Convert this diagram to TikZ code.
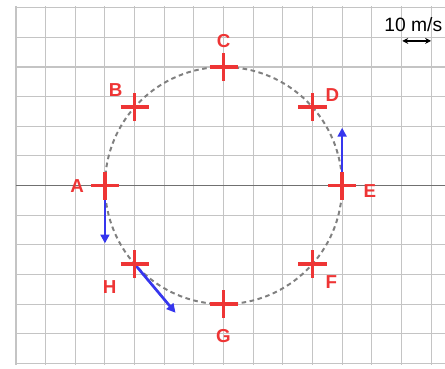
\documentclass[tikz,border=0pt]{standalone}
\usepackage{fontspec}
\setmainfont{Liberation Sans}
\usetikzlibrary{arrows.meta, positioning, shapes.misc, calc}
\definecolor{ptRed}{HTML}{EE3535}
\definecolor{velBlue}{HTML}{3636EE}
\definecolor{gridGray}{HTML}{C4C4C4}
\definecolor{axisGray}{HTML}{707070}
\definecolor{pathGray}{HTML}{808080}
\tikzset{
  plusmk/.style={cross out, draw=ptRed, line width=3.4pt, rotate=45,
                 minimum size=0.55cm, inner sep=0pt},
  lbl/.style={text=ptRed, font=\fontsize{18}{21}\selectfont\bfseries,
              inner sep=0pt},
  velarrow/.style={-{Triangle[length=3mm, width=3mm]}, velBlue, line width=2.6pt},
  scalearrow/.style={{Stealth[length=2mm, width=2mm]}-{Stealth[length=2mm, width=2mm]},
                     black, line width=1.5pt},
  orbit/.style={pathGray, line width=1.9pt, dash pattern=on 4.4pt off 3.4pt},
}
\begin{document}
\begin{tikzpicture}
  \useasboundingbox (-7.54,-6.16) rectangle (7.47,6.26);
  % grid
  \foreach \x in {-7,...,7}
    \draw[gridGray, line width=1pt] (\x,-6.05) -- (\x,6.07);
  \foreach \y in {-6,...,6}
    \draw[gridGray, line width=1pt] (-7,\y) -- (7.47,\y);
  \draw[axisGray, line width=1pt] (-7,0) -- (7.47,0);
  % path of the object
  \draw[orbit] (0,0) circle (4);
  \pgfmathsetmacro\ys{sqrt(7)}
  % positions
  \coordinate (pA) at (-4,0);
  \coordinate (pB) at (-3,\ys);
  \coordinate (pC) at (0,4);
  \coordinate (pD) at (3,\ys);
  \coordinate (pE) at (4,0);
  \coordinate (pF) at (3,-\ys);
  \coordinate (pG) at (0,-4);
  \coordinate (pH) at (-3,-\ys);
  % velocity vectors
  \coordinate (vA) at (-4,-1.95);
  \coordinate (vE) at (4,1.95);
  \coordinate (vH) at (-1.62,-4.29);
  \draw[velarrow] (pA) -- (vA);
  \draw[velarrow] (pE) -- (vE);
  \draw[velarrow] (pH) -- (vH);
  % markers
  \foreach \p in {A,B,C,D,E,F,G,H}
    \node[plusmk] (\p) at (p\p) {};
  \node[lbl] (lA) at ($(pA)+(-0.94,0)$) {A};
  \node[lbl] (lB) at ($(pB)+(-0.64,0.57)$) {B};
  \node[lbl] (lC) at ($(pC)+(0,0.86)$) {C};
  \node[lbl] (lD) at ($(pD)+(0.67,0.40)$) {D};
  \node[lbl] (lE) at ($(pE)+(0.94,-0.17)$) {E};
  \node[lbl] (lF) at ($(pF)+(0.64,-0.61)$) {F};
  \node[lbl] (lG) at ($(pG)+(0,-1.06)$) {G};
  \node[lbl] (lH) at ($(pH)+(-0.84,-0.78)$) {H};
  % scale
  \node[font=\fontsize{18.5}{22}\selectfont, inner sep=0pt] (scale) at (6.4,5.42) {10 m/s};
  \coordinate (s0) at (6.03,4.88);
  \coordinate (s1) at (7.0,4.88);
  \draw[scalearrow] (s0) -- (s1);
\end{tikzpicture}
\end{document}
